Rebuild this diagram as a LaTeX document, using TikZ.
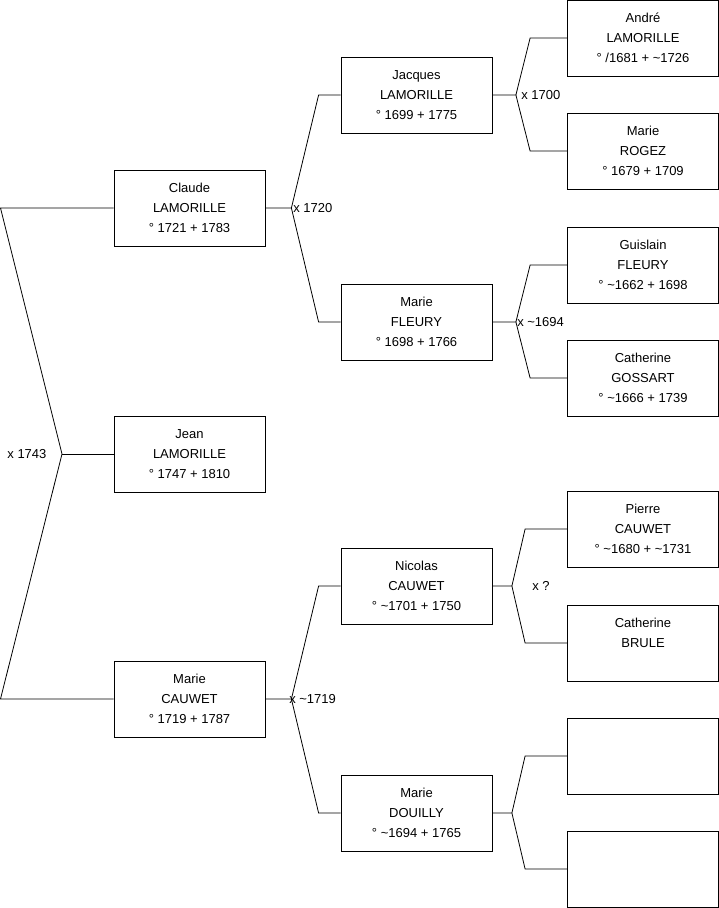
\documentclass[tikz,border=0pt]{standalone}
\usepackage{fontspec}
\setmainfont{Liberation Sans}
\usetikzlibrary{positioning}

\begin{document}
\begin{tikzpicture}[x=1pt, y=-1pt, line width=0.8pt,
    person/.style={draw, minimum width=151pt, minimum height=76pt, inner sep=0pt,
        align=center, font=\fontsize{13}{20}\selectfont},
    union/.style={inner sep=0pt, font=\fontsize{13}{16}\selectfont}]
\useasboundingbox (0,0) rectangle (719,908);
% generation 1
\node[person] (jean) at (189.5,454) {Jean\\LAMORILLE\\° 1747 + 1810};
% generation 2
\node[person] (claude) at (189.5,208) {Claude\\LAMORILLE\\° 1721 + 1783};
\node[person] (mariec) at (189.5,699) {Marie\\CAUWET\\° 1719 + 1787};
% generation 3
\node[person] (jacques) at (416.5,95) {Jacques\\LAMORILLE\\° 1699 + 1775};
\node[person] (marief) at (416.5,322) {Marie\\FLEURY\\° 1698 + 1766};
\node[person] (nicolas) at (416.5,586) {Nicolas\\CAUWET\\° \textasciitilde1701 + 1750};
\node[person] (maried) at (416.5,813) {Marie\\DOUILLY\\° \textasciitilde1694 + 1765};
% generation 4
\foreach \n/\y/\t in {andre/38/{André\\LAMORILLE\\° /1681 + \textasciitilde1726},
    marier/151/{Marie\\ROGEZ\\° 1679 + 1709},
    guislain/265/{Guislain\\FLEURY\\° \textasciitilde1662 + 1698},
    catherineg/378/{Catherine\\GOSSART\\° \textasciitilde1666 + 1739},
    pierre/529/{Pierre\\CAUWET\\° \textasciitilde1680 + \textasciitilde1731},
    catherineb/643/{Catherine\\BRULE\\~},
    blanka/756/{},
    blankb/869/{}} {
    \node[person] (\n) at (643,\y) {\t};
}
% x 1743
\coordinate (left) at (0.5,0);
\coordinate (u0) at (62,454);
\draw (claude.west) -- (claude.west -| left) -- (u0) -- (mariec.west -| left) -- (mariec.west);
\draw (u0) -- (jean.west);
\node[union, anchor=west] (m0) at (7,454) {x 1743};
% x 1720
\coordinate (u1) at ([xshift=26pt]claude.east);
\draw (claude.east) -- (u1) -- ([xshift=-22pt]jacques.west) -- (jacques.west);
\draw (u1) -- ([xshift=-22pt]marief.west) -- (marief.west);
\node[union, right=1.5pt of u1] (m1) {x 1720};
% x ~1719
\coordinate (u2) at ([xshift=26pt]mariec.east);
\draw (mariec.east) -- (u2) -- ([xshift=-22pt]nicolas.west) -- (nicolas.west);
\draw (u2) -- ([xshift=-22pt]maried.west) -- (maried.west);
\node[union, right=-2.5pt of u2] (m2) {x \textasciitilde1719};
% x 1700
\coordinate (u3) at ([xshift=23.5pt]jacques.east);
\draw (jacques.east) -- (u3) -- ([xshift=-37pt]andre.west) -- (andre.west);
\draw (u3) -- ([xshift=-37pt]marier.west) -- (marier.west);
\node[union, right=5pt of u3] (m3) {x 1700};
% x ~1694
\coordinate (u4) at ([xshift=23.5pt]marief.east);
\draw (marief.east) -- (u4) -- ([xshift=-37pt]guislain.west) -- (guislain.west);
\draw (u4) -- ([xshift=-37pt]catherineg.west) -- (catherineg.west);
\node[union, right=1pt of u4] (m4) {x \textasciitilde1694};
% x ?
\coordinate (u5) at ([xshift=19.5pt]nicolas.east);
\draw (nicolas.east) -- (u5) -- ([xshift=-42pt]pierre.west) -- (pierre.west);
\draw (u5) -- ([xshift=-42pt]catherineb.west) -- (catherineb.west);
\node[union, right=20pt of u5] (m5) {x ?};
% no names
\coordinate (u6) at ([xshift=19.5pt]maried.east);
\draw (maried.east) -- (u6) -- ([xshift=-42pt]blanka.west) -- (blanka.west);
\draw (u6) -- ([xshift=-42pt]blankb.west) -- (blankb.west);
\end{tikzpicture}
\end{document}
